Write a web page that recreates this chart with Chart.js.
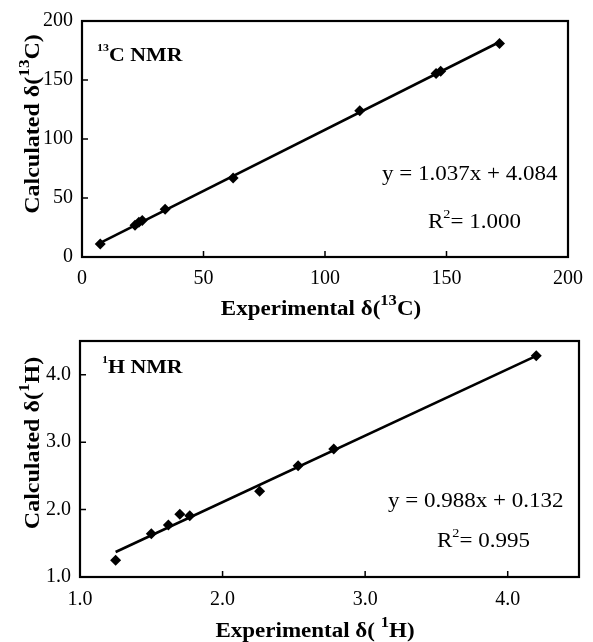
<!DOCTYPE html>
<html>
<head>
<meta charset="utf-8">
<script src="https://cdn.jsdelivr.net/npm/chart.js@4"></script>
<style>
  html, body { margin: 0; padding: 0; background: #fff; }
  #wrap { position: relative; width: 593px; height: 642px; }
  .box { position: absolute; left: 0; width: 593px; }
</style>
</head>
<body>
<div id="wrap">
  <div class="box" style="top:0;height:320px"><canvas id="chartC"></canvas></div>
  <div class="box" style="top:320px;height:322px"><canvas id="chartH"></canvas></div>
</div>
<script>
// 13C NMR: experimental vs calculated shifts
const expC = [7.5, 21.8, 23.4, 24.8, 34.2, 62.2, 114.3, 145.7, 147.6, 171.8];
const calcC = [11.0, 27.0, 29.5, 31.0, 40.5, 67.0, 124.0, 155.5, 157.5, 181.0];
const fitC_x = [7.5, 171.8];
const fitC_y = [11.9, 182.2];

// 1H NMR
const expH = [1.25, 1.50, 1.62, 1.70, 1.77, 2.26, 2.53, 2.78, 4.20];
const calcH = [1.25, 1.64, 1.77, 1.93, 1.91, 2.27, 2.65, 2.90, 4.28];
const fitH_x = [1.25, 4.20];
const fitH_y = [1.37, 4.28];

const SERIF = '"Liberation Serif", "Times New Roman", serif';
const STRETCH = 1.15;

function pts(xs, ys) {
  return xs.map((v, i) => ({ x: v, y: ys[i] }));
}

function drawRich(ctx, t) {
  const weight = t.bold ? 'bold ' : '';
  const font = s => `${weight}${s}px ${SERIF}`;
  const segs = t.parts.map(p => {
    const s = p.sup ? t.size * t.supScale : t.size;
    ctx.font = font(s);
    return { text: p.text, sup: p.sup, s, w: ctx.measureText(p.text).width };
  });
  const total = segs.reduce((a, g) => a + g.w, 0);
  ctx.save();
  ctx.translate(t.x, t.y);
  if (t.rotate) ctx.rotate(-Math.PI / 2);
  ctx.scale(t.stretch || STRETCH, 1);
  let cx = t.align === 'center' ? -total / 2 : 0;
  ctx.fillStyle = '#000';
  ctx.textAlign = 'left';
  ctx.textBaseline = 'alphabetic';
  segs.forEach(g => {
    ctx.font = font(g.s);
    ctx.fillText(g.text, cx, g.sup ? -t.size * t.supRise : 0);
    cx += g.w;
  });
  ctx.restore();
}

// box around the plot, inward ticks and the hand placed labels
const framePlugin = {
  id: 'frame',
  afterDraw(chart, args, opts) {
    const { ctx, chartArea: a, scales: { x, y } } = chart;
    ctx.save();
    ctx.strokeStyle = '#000';
    ctx.lineWidth = 1.5;
    ctx.beginPath();
    x.ticks.forEach(t => {
      const px = x.getPixelForValue(t.value);
      ctx.moveTo(px, a.bottom);
      ctx.lineTo(px, a.bottom - 6);
    });
    y.ticks.forEach(t => {
      const py = y.getPixelForValue(t.value);
      ctx.moveTo(a.left, py);
      ctx.lineTo(a.left + 6, py);
    });
    ctx.stroke();
    ctx.lineWidth = 2.2;
    ctx.strokeRect(a.left, a.top, a.right - a.left, a.bottom - a.top);
    ctx.restore();
    (opts.texts || []).forEach(t => drawRich(ctx, t));
  }
};

function makeChart(id, cfg) {
  const tickFont = { family: SERIF, size: 20 };
  return new Chart(document.getElementById(id), {
    type: 'scatter',
    data: {
      datasets: [
        {
          data: pts(cfg.xs, cfg.ys),
          pointStyle: 'rectRot',
          pointRadius: 5.5,
          pointHoverRadius: 5.5,
          backgroundColor: '#000',
          borderColor: '#000',
          borderWidth: 0
        },
        {
          data: pts(cfg.fx, cfg.fy),
          showLine: true,
          pointRadius: 0,
          borderColor: '#000',
          borderWidth: 2.6
        }
      ]
    },
    options: {
      responsive: true,
      maintainAspectRatio: false,
      animation: false,
      layout: { padding: cfg.padding },
      plugins: {
        legend: { display: false },
        tooltip: { enabled: false },
        frame: { texts: cfg.texts }
      },
      scales: {
        x: {
          type: 'linear',
          min: cfg.xMin, max: cfg.xMax,
          grid: { display: false, drawTicks: false },
          border: { display: false },
          ticks: {
            stepSize: cfg.step, includeBounds: false, color: '#000', font: tickFont,
            padding: cfg.xPad, maxRotation: 0, callback: cfg.fmt
          },
          afterFit: s => { s.height = cfg.xHeight; }
        },
        y: {
          type: 'linear',
          min: cfg.yMin, max: cfg.yMax,
          grid: { display: false, drawTicks: false },
          border: { display: false },
          ticks: {
            stepSize: cfg.step, includeBounds: false, color: '#000', font: tickFont,
            padding: 9, callback: cfg.fmt
          },
          afterFit: s => { s.width = cfg.yWidth; }
        }
      }
    },
    plugins: [framePlugin]
  });
}

const eqStyle = { size: 20, bold: false, supScale: 0.62, supRise: 0.5 };
const titleStyle = { size: 20, bold: true, supScale: 0.72, supRise: 0.5 };
const tagStyle = { size: 19, bold: true, supScale: 0.55, supRise: 0.55 };

makeChart('chartC', {
  xs: expC, ys: calcC, fx: fitC_x, fy: fitC_y,
  xMin: 0, xMax: 200, yMin: 0, yMax: 200, step: 50,
  fmt: v => String(v),
  padding: { top: 21, right: 16, left: 0, bottom: 0 },
  yWidth: 82, xHeight: 63, xPad: 10,
  texts: [
    { ...tagStyle, x: 97, y: 61, parts: [{ text: '13', sup: true }, { text: 'C NMR' }] },
    { ...eqStyle, x: 382, y: 180, parts: [{ text: 'y = 1.037x + 4.084' }] },
    { ...eqStyle, x: 428, y: 228, parts: [{ text: 'R' }, { text: '2', sup: true }, { text: '= 1.000' }] },
    { ...titleStyle, x: 321, y: 315, align: 'center',
      parts: [{ text: 'Experimental δ(' }, { text: '13', sup: true }, { text: 'C)' }] },
    { ...titleStyle, x: 39, y: 124, align: 'center', rotate: true, stretch: 1.2,
      parts: [{ text: 'Calculated δ(' }, { text: '13', sup: true }, { text: 'C)' }] }
  ]
});

makeChart('chartH', {
  xs: expH, ys: calcH, fx: fitH_x, fy: fitH_y,
  xMin: 1, xMax: 4.5, yMin: 1, yMax: 4.5, step: 1,
  fmt: v => v.toFixed(1),
  padding: { top: 15, right: 14, left: 0, bottom: 0 },
  yWidth: 80, xHeight: 65, xPad: 11,
  texts: [
    { ...tagStyle, x: 102, y: 53, parts: [{ text: '1', sup: true }, { text: 'H NMR' }] },
    { ...eqStyle, x: 388, y: 187, parts: [{ text: 'y = 0.988x + 0.132' }] },
    { ...eqStyle, x: 437, y: 227, parts: [{ text: 'R' }, { text: '2', sup: true }, { text: '= 0.995' }] },
    { ...titleStyle, x: 315, y: 317, align: 'center',
      parts: [{ text: 'Experimental δ( ' }, { text: '1', sup: true }, { text: 'H)' }] },
    { ...titleStyle, x: 39, y: 123, align: 'center', rotate: true, stretch: 1.2,
      parts: [{ text: 'Calculated δ(' }, { text: '1', sup: true }, { text: 'H)' }] }
  ]
});
</script>
</body>
</html>
